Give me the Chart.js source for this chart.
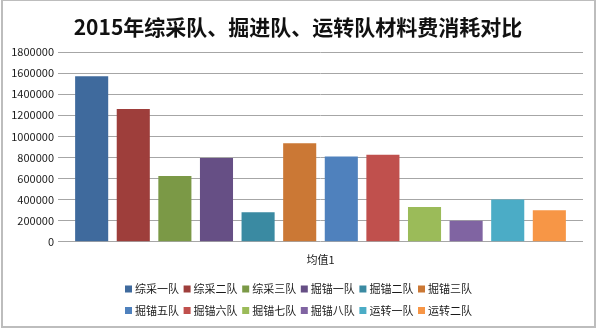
<!DOCTYPE html>
<html><head><meta charset="utf-8">
<script src="https://cdn.jsdelivr.net/npm/chart.js@4/dist/chart.umd.min.js"></script>
<style>html,body{margin:0;padding:0;background:#fff;}#wrap{width:600px;height:330px;position:relative;}</style>
</head><body><div id="wrap"><canvas id="c" width="600" height="330"></canvas></div>
<script>
const titleText = '2015年综采队、掘进队、运转队材料费消耗对比';
const categories = ['均值1'];
const teams = ['综采一队','综采二队','综采三队','掘锚一队','掘锚二队','掘锚三队','掘锚五队','掘锚六队','掘锚七队','掘锚八队','运转一队','运转二队'];
const values = [1570000,1260000,625000,795000,280000,935000,810000,825000,330000,200000,400000,300000];
const colors = ['#3F6A9D','#9E3E3B','#7B9946','#664F85','#3A8AA2','#CB7835','#4F81BD','#C0504D','#9BBB59','#8064A2','#4BACC6','#F79646'];
const yTicks = [0,200000,400000,600000,800000,1000000,1200000,1400000,1600000,1800000];
const FONT = "'Noto Sans CJK SC','Noto Sans',sans-serif";

const frame = {
  id:'frame',
  beforeDraw(chart){
    const ctx = chart.ctx;
    ctx.save();
    ctx.fillStyle='#fff'; ctx.fillRect(0,0,600,330);
    ctx.strokeStyle='#bdbdbd'; ctx.lineWidth=2;
    ctx.strokeRect(2,0,593,327);
    ctx.restore();
  }
};
const titleLegend = {
  id:'titleLegend',
  afterDraw(chart){
    const ctx = chart.ctx;
    ctx.save();
    ctx.font = 'bold 21px ' + FONT;
    ctx.textAlign='center'; ctx.textBaseline='middle';
    ctx.fillStyle='#111';
    ctx.fillText(titleText, 298, 27);
    ctx.textAlign='left';
    ctx.font = '11px ' + FONT;
    chart.data.datasets.forEach((ds,i)=>{
      const row = Math.floor(i/6), col = i%6;
      const x = 125 + col*58.6, y = 289 + row*21.5;
      ctx.fillStyle = ds.backgroundColor;
      ctx.fillRect(x, y-3.5, 7, 7);
      ctx.fillStyle='#1a1a1a';
      ctx.fillText(ds.label, x+10, y);
    });
    ctx.restore();
  }
};

new Chart(document.getElementById('c'), {
  type:'bar',
  data:{
    labels: categories,
    datasets: teams.map((t,i)=>({label:t, data:[values[i]], backgroundColor:colors[i], borderWidth:0}))
  },
  options:{
    responsive:false, animation:false,
    layout:{padding:{left:0,right:17,top:52,bottom:53}},
    datasets:{bar:{categoryPercentage:0.951, barPercentage:0.795}},
    plugins:{
      legend:{display:false},
      tooltip:{enabled:false},
      title:{display:false}
    },
    scales:{
      x:{grid:{display:false, drawTicks:false}, border:{display:false}, ticks:{color:'#1a1a1a', padding:11, font:{family:FONT,size:11}}},
      y:{min:0, max:1800000, afterFit(s){s.width=58;},
         afterBuildTicks(s){s.ticks = yTicks.map(v=>({value:v}));},
         grid:{color:'#a6a6a6', lineWidth:1, drawTicks:false}, border:{display:false},
         ticks:{color:'#1a1a1a', padding:4, font:{family:FONT,size:11}, callback:v=>String(v)}}
    }
  },
  plugins:[frame, titleLegend]
});
</script></body></html>
